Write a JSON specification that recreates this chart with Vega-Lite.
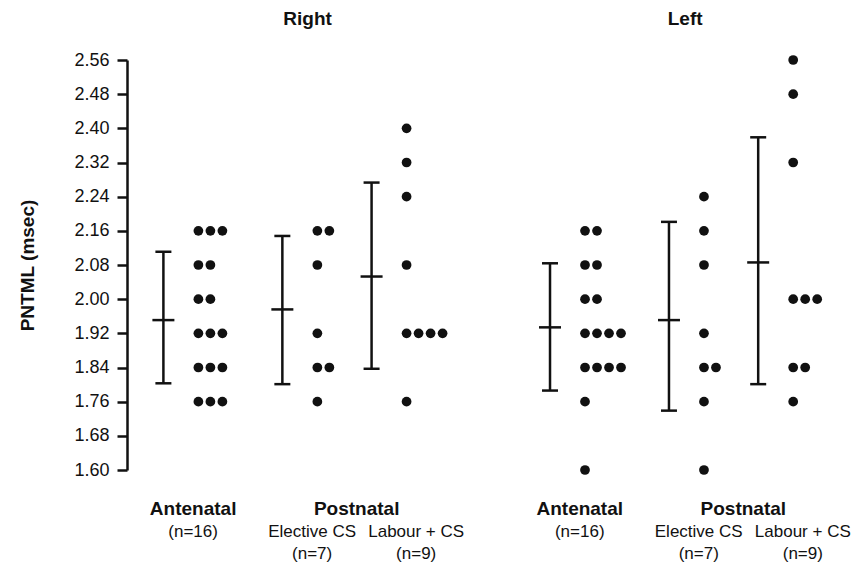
{
  "$schema": "https://vega.github.io/schema/vega-lite/v6.json",
  "width": 712,
  "height": 410,
  "autosize": {"type": "none"},
  "padding": {"left": 127, "top": 60, "right": 29, "bottom": 95},
  "background": "white",
  "config": {
    "view": {"stroke": null},
    "font": "Liberation Sans",
    "axisY": {
      "domainColor": "#111", "domainWidth": 2.5,
      "tickColor": "#111", "tickWidth": 2.5, "tickSize": 10,
      "labelFontSize": 18, "labelColor": "#111", "labelPadding": 8,
      "labelFlush": false, "labelOverlap": false,
      "titleFontSize": 19, "titleFontWeight": "bold", "titleColor": "#111", "titlePadding": 36,
      "grid": false
    }
  },
  "datasets": {
    "dots": [
      {"side": "Right", "group": "Antenatal", "value": 2.16},
      {"side": "Right", "group": "Antenatal", "value": 2.16},
      {"side": "Right", "group": "Antenatal", "value": 2.16},
      {"side": "Right", "group": "Antenatal", "value": 2.08},
      {"side": "Right", "group": "Antenatal", "value": 2.08},
      {"side": "Right", "group": "Antenatal", "value": 2.00},
      {"side": "Right", "group": "Antenatal", "value": 2.00},
      {"side": "Right", "group": "Antenatal", "value": 1.92},
      {"side": "Right", "group": "Antenatal", "value": 1.92},
      {"side": "Right", "group": "Antenatal", "value": 1.92},
      {"side": "Right", "group": "Antenatal", "value": 1.84},
      {"side": "Right", "group": "Antenatal", "value": 1.84},
      {"side": "Right", "group": "Antenatal", "value": 1.84},
      {"side": "Right", "group": "Antenatal", "value": 1.76},
      {"side": "Right", "group": "Antenatal", "value": 1.76},
      {"side": "Right", "group": "Antenatal", "value": 1.76},
      {"side": "Right", "group": "Elective CS", "value": 2.16},
      {"side": "Right", "group": "Elective CS", "value": 2.16},
      {"side": "Right", "group": "Elective CS", "value": 2.08},
      {"side": "Right", "group": "Elective CS", "value": 1.92},
      {"side": "Right", "group": "Elective CS", "value": 1.84},
      {"side": "Right", "group": "Elective CS", "value": 1.84},
      {"side": "Right", "group": "Elective CS", "value": 1.76},
      {"side": "Right", "group": "Labour + CS", "value": 2.40},
      {"side": "Right", "group": "Labour + CS", "value": 2.32},
      {"side": "Right", "group": "Labour + CS", "value": 2.24},
      {"side": "Right", "group": "Labour + CS", "value": 2.08},
      {"side": "Right", "group": "Labour + CS", "value": 1.92},
      {"side": "Right", "group": "Labour + CS", "value": 1.92},
      {"side": "Right", "group": "Labour + CS", "value": 1.92},
      {"side": "Right", "group": "Labour + CS", "value": 1.92},
      {"side": "Right", "group": "Labour + CS", "value": 1.76},
      {"side": "Left", "group": "Antenatal", "value": 2.16},
      {"side": "Left", "group": "Antenatal", "value": 2.16},
      {"side": "Left", "group": "Antenatal", "value": 2.08},
      {"side": "Left", "group": "Antenatal", "value": 2.08},
      {"side": "Left", "group": "Antenatal", "value": 2.00},
      {"side": "Left", "group": "Antenatal", "value": 2.00},
      {"side": "Left", "group": "Antenatal", "value": 1.92},
      {"side": "Left", "group": "Antenatal", "value": 1.92},
      {"side": "Left", "group": "Antenatal", "value": 1.92},
      {"side": "Left", "group": "Antenatal", "value": 1.92},
      {"side": "Left", "group": "Antenatal", "value": 1.84},
      {"side": "Left", "group": "Antenatal", "value": 1.84},
      {"side": "Left", "group": "Antenatal", "value": 1.84},
      {"side": "Left", "group": "Antenatal", "value": 1.84},
      {"side": "Left", "group": "Antenatal", "value": 1.76},
      {"side": "Left", "group": "Antenatal", "value": 1.60},
      {"side": "Left", "group": "Elective CS", "value": 2.24},
      {"side": "Left", "group": "Elective CS", "value": 2.16},
      {"side": "Left", "group": "Elective CS", "value": 2.08},
      {"side": "Left", "group": "Elective CS", "value": 1.92},
      {"side": "Left", "group": "Elective CS", "value": 1.84},
      {"side": "Left", "group": "Elective CS", "value": 1.84},
      {"side": "Left", "group": "Elective CS", "value": 1.76},
      {"side": "Left", "group": "Elective CS", "value": 1.60},
      {"side": "Left", "group": "Labour + CS", "value": 2.56},
      {"side": "Left", "group": "Labour + CS", "value": 2.48},
      {"side": "Left", "group": "Labour + CS", "value": 2.32},
      {"side": "Left", "group": "Labour + CS", "value": 2.00},
      {"side": "Left", "group": "Labour + CS", "value": 2.00},
      {"side": "Left", "group": "Labour + CS", "value": 2.00},
      {"side": "Left", "group": "Labour + CS", "value": 1.84},
      {"side": "Left", "group": "Labour + CS", "value": 1.84},
      {"side": "Left", "group": "Labour + CS", "value": 1.76}
    ],
    "errs": [
      {"side": "Right", "group": "Antenatal", "mean": 1.951, "lo": 1.803, "hi": 2.111},
      {"side": "Right", "group": "Elective CS", "mean": 1.976, "lo": 1.801, "hi": 2.148},
      {"side": "Right", "group": "Labour + CS", "mean": 2.053, "lo": 1.837, "hi": 2.273},
      {"side": "Left", "group": "Antenatal", "mean": 1.934, "lo": 1.786, "hi": 2.084},
      {"side": "Left", "group": "Elective CS", "mean": 1.951, "lo": 1.739, "hi": 2.181},
      {"side": "Left", "group": "Labour + CS", "mean": 2.086, "lo": 1.801, "hi": 2.379}
    ],
    "labels": [
      {"side": "Right", "group": "Antenatal", "heading": "Antenatal", "detail": "(n=16)"},
      {"side": "Right", "group": "Postnatal", "heading": "Postnatal"},
      {"side": "Right", "group": "Elective CS", "detail": "Elective CS\n(n=7)"},
      {"side": "Right", "group": "Labour + CS", "detail": "Labour + CS\n(n=9)"},
      {"side": "Left", "group": "Antenatal", "heading": "Antenatal", "detail": "(n=16)"},
      {"side": "Left", "group": "Postnatal", "heading": "Postnatal"},
      {"side": "Left", "group": "Elective CS", "detail": "Elective CS\n(n=7)"},
      {"side": "Left", "group": "Labour + CS", "detail": "Labour + CS\n(n=9)"}
    ],
    "sides": [{"side": "Right"}, {"side": "Left"}]
  },
  "layer": [
    {
      "encoding": {
        "x": {
          "field": "key", "type": "nominal", "axis": null,
          "scale": {
            "type": "point", "padding": 0, "range": [36.4, 675.8],
            "domain": [
              "Right Antenatal", "_1", "Right Antenatal label", "_3", "_4", "_5", "_6", "_7",
              "Right Elective CS", "_9", "Right Elective CS label", "_11", "_12", "Right Postnatal label",
              "Right Labour + CS", "_15", "_16", "Right Labour + CS label", "_18", "_19", "_20", "_21",
              "_22", "_23", "_24", "_25", "Left Antenatal", "_27", "Left Antenatal label", "_29", "_30",
              "_31", "_32", "_33", "Left Elective CS", "_35", "Left Elective CS label", "_37", "_38",
              "Left Postnatal label", "Left Labour + CS", "_41", "_42", "Left Labour + CS label"
            ]
          }
        }
      },
      "layer": [
        {
          "data": {"name": "errs"},
          "transform": [{"calculate": "datum.side + ' ' + datum.group", "as": "key"}],
          "mark": {"type": "rule", "color": "#111", "strokeWidth": 2.5},
          "encoding": {
            "y": {"field": "lo", "type": "quantitative", "title": "PNTML (msec)",
                  "scale": {"domain": [1.6, 2.56], "nice": false, "zero": false},
                  "axis": {"values": [1.6, 1.68, 1.76, 1.84, 1.92, 2.0, 2.08, 2.16, 2.24, 2.32, 2.4, 2.48, 2.56], "format": ".2f", "labelOverlap": false}},
            "y2": {"field": "hi"}
          }
        },
        {
          "data": {"name": "errs"},
          "transform": [{"calculate": "datum.side + ' ' + datum.group", "as": "key"}],
          "mark": {"type": "tick", "orient": "horizontal", "color": "#111", "size": 16, "thickness": 2.5, "opacity": 1},
          "encoding": {"y": {"field": "lo", "type": "quantitative", "title": "PNTML (msec)",
                  "axis": {"values": [1.6, 1.68, 1.76, 1.84, 1.92, 2.0, 2.08, 2.16, 2.24, 2.32, 2.4, 2.48, 2.56], "format": ".2f", "labelOverlap": false}}}
        },
        {
          "data": {"name": "errs"},
          "transform": [{"calculate": "datum.side + ' ' + datum.group", "as": "key"}],
          "mark": {"type": "tick", "orient": "horizontal", "color": "#111", "size": 16, "thickness": 2.5, "opacity": 1},
          "encoding": {"y": {"field": "hi", "type": "quantitative", "title": "PNTML (msec)",
                  "axis": {"values": [1.6, 1.68, 1.76, 1.84, 1.92, 2.0, 2.08, 2.16, 2.24, 2.32, 2.4, 2.48, 2.56], "format": ".2f", "labelOverlap": false}}}
        },
        {
          "data": {"name": "errs"},
          "transform": [{"calculate": "datum.side + ' ' + datum.group", "as": "key"}],
          "mark": {"type": "tick", "orient": "horizontal", "color": "#111", "size": 22, "thickness": 2.5, "opacity": 1},
          "encoding": {"y": {"field": "mean", "type": "quantitative", "title": "PNTML (msec)",
                  "axis": {"values": [1.6, 1.68, 1.76, 1.84, 1.92, 2.0, 2.08, 2.16, 2.24, 2.32, 2.4, 2.48, 2.56], "format": ".2f", "labelOverlap": false}}}
        },
        {
          "data": {"name": "dots"},
          "transform": [
            {"calculate": "datum.side + ' ' + datum.group", "as": "key"},
            {"window": [{"op": "row_number", "as": "k"}], "groupby": ["key", "value"]}
          ],
          "mark": {"type": "circle", "size": 95, "opacity": 1, "color": "#111"},
          "encoding": {
            "y": {"field": "value", "type": "quantitative", "title": "PNTML (msec)",
                  "axis": {"values": [1.6, 1.68, 1.76, 1.84, 1.92, 2.0, 2.08, 2.16, 2.24, 2.32, 2.4, 2.48, 2.56], "format": ".2f", "labelOverlap": false}},
            "xOffset": {"field": "k", "type": "quantitative", "scale": {"domain": [1, 4], "range": [35, 71]}}
          }
        },
        {
          "data": {"name": "labels"},
          "transform": [
            {"filter": "isValid(datum.heading)"},
            {"calculate": "datum.side + ' ' + datum.group + ' label'", "as": "key"}
          ],
          "mark": {"type": "text", "fontSize": 19, "fontWeight": "bold", "color": "#111", "baseline": "middle", "align": "center"},
          "encoding": {
            "y": {"datum": 1.509, "type": "quantitative", "title": "PNTML (msec)",
                  "axis": {"values": [1.6, 1.68, 1.76, 1.84, 1.92, 2.0, 2.08, 2.16, 2.24, 2.32, 2.4, 2.48, 2.56], "format": ".2f", "labelOverlap": false}},
            "text": {"field": "heading"}
          }
        },
        {
          "data": {"name": "labels"},
          "transform": [
            {"filter": "isValid(datum.detail)"},
            {"calculate": "datum.side + ' ' + datum.group + ' label'", "as": "key"}
          ],
          "mark": {"type": "text", "fontSize": 17, "color": "#111", "baseline": "top", "align": "center", "lineBreak": "\n", "lineHeight": 21.5},
          "encoding": {
            "y": {"datum": 1.4733, "type": "quantitative", "title": "PNTML (msec)",
                  "axis": {"values": [1.6, 1.68, 1.76, 1.84, 1.92, 2.0, 2.08, 2.16, 2.24, 2.32, 2.4, 2.48, 2.56], "format": ".2f", "labelOverlap": false}},
            "text": {"field": "detail"}
          }
        }
      ]
    },
    {
      "data": {"name": "sides"},
      "mark": {"type": "text", "fontSize": 19, "fontWeight": "bold", "color": "#111", "baseline": "middle", "align": "center"},
      "encoding": {
        "x": {"field": "side", "type": "nominal", "axis": null,
              "scale": {"type": "point", "domain": ["Right", "Left"], "padding": 0.443, "align": 0.54}},
        "y": {"datum": 2.6565, "type": "quantitative", "title": "PNTML (msec)",
              "axis": {"values": [1.6, 1.68, 1.76, 1.84, 1.92, 2.0, 2.08, 2.16, 2.24, 2.32, 2.4, 2.48, 2.56], "format": ".2f", "labelOverlap": false}},
        "text": {"field": "side"}
      }
    }
  ],
  "resolve": {"scale": {"x": "independent"}}
}
